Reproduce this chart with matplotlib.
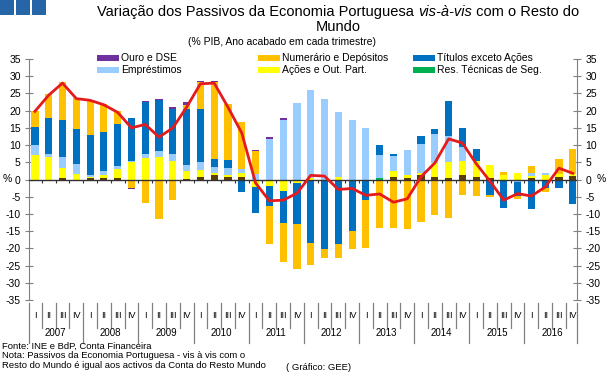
import matplotlib
matplotlib.use("Agg")
import matplotlib.pyplot as plt
import matplotlib.transforms as mtransforms
from matplotlib.patches import Rectangle
import numpy as np

plt.rcParams['font.family'] = ['Liberation Sans Narrow', 'Liberation Sans', 'DejaVu Sans']

# trimestres 2007 I .. 2016 IV
anos = ['2007', '2008', '2009', '2010', '2011', '2012', '2013', '2014', '2015', '2016']
trimestres = ['I', 'II', 'III', 'IV']

# % do PIB, ano acabado em cada trimestre
outros = [-0.4, 0, 0.3, 0, 0.3, 0.3, 0.3, 0, -0.3, -0.4,
          0, 0.2, 0.6, 1.3, 0.6, 0.7, 0, 0, 0, 0,
          0, 0, 0, 0, -0.3, 0, 0.6, 0.4, 1.2, 0.8,
          0.3, 1.3, 0.6, 0.5, 0, 0, 0.3, 0, 0.6, 1.0]
res_tecnicas = [0, 0, 0, 0, 0, 0, 0, 0, 0, 0,
                0, 0, 0, 0, 0, 0, -0.3, 0, 0, 0,
                0, 0, 0, 0, 0, 0.4, 0, 0, 0, 0,
                0, 0, 0.2, -0.3, 0, 0, 0, 0, 0, 0]
acoes = [7.2, 6.5, 3.1, 1.7, 0.4, 0.9, 2.8, 5.0, 6.2, 6.5,
         5.5, 2.3, 2.3, 0.6, 0.6, 1.2, -1.8, -1.9, -3.4, -1.0,
         0.4, 0, 0.6, 0, 0, 0, 1.8, 0.9, 0.8, 4.0,
         4.7, 4.2, 4.7, 3.7, 1.2, 1.8, 0.8, 1.3, 0.9, 0.7]
emprestimos = [2.7, 1.0, 3.1, 2.7, 0.7, 1.4, 0.8, 0.5, 1.3, 1.9,
               2.0, 1.7, 2.1, 1.7, 2.0, 1.2, 1.6, 11.8, 17.4, 22.2,
               25.6, 23.4, 19.1, 17.4, 15.0, 6.8, 4.4, 7.4, 8.3, 8.4,
               7.7, 4.0, -0.5, 0, 0, -0.6, 0.8, 0.6, 0, 0]
titulos = [5.3, 10.4, 10.9, 10.3, 11.6, 11.2, 12.3, 12.4, 15.0, 14.6,
           12.9, 16.4, 15.4, 2.3, 2.4, -3.5, -7.5, -5.8, -9.1, -12.0,
           -18.5, -20.1, -18.8, -15.0, -5.6, 2.7, 0.6, 0, 2.2, 1.6,
           10.2, 5.6, 3.5, -4.1, -8.4, -4.2, -8.7, -2.4, -2.5, -7.2]
numerario = [4.8, 6.9, 10.9, 8.9, 10.1, 8.2, 3.6, -2.5, -6.4, -11.0,
             -6.0, 1.0, 7.9, 22.4, 16.4, 13.6, 6.6, -10.9, -11.4, -13.0,
             -6.4, -2.8, -4.1, -5.2, -14.0, -14.2, -14.1, -14.3, -12.3, -10.3,
             -11.1, -4.5, -4.3, -0.6, 1.0, -1.0, 1.9, -1.3, 4.4, 7.3]
ouro_dse = [0, 0, 0, 0, 0, 0, -0.2, -0.4, 0.4, 0.4,
            0.8, 1.0, 0.2, 0.2, -0.3, 0, 0.5, 0.5, 0.4, 0,
            0, 0, 0, 0, 0, 0, 0, 0, 0, 0,
            0, 0, 0, 0, 0, 0, 0, 0, 0, 0]
total = [19.8, 24.5, 28.0, 23.5, 23.0, 21.7, 19.5, 15.0, 16.0, 12.3,
         15.0, 21.0, 27.8, 28.0, 21.0, 13.5, -1.0, -6.2, -6.0, -4.0,
         1.2, 1.0, -2.9, -2.6, -4.6, -4.2, -6.6, -5.6, 0.8, 4.8,
         11.8, 10.6, 4.6, -0.5, -6.0, -4.1, -4.8, -2.2, 3.3, 1.8]

series = [
    (outros, '#5a3e08', None),
    (res_tecnicas, '#00b050', 'Res. Técnicas de Seg.'),
    (acoes, '#ffff00', 'Ações e Out. Part.'),
    (emprestimos, '#99ccff', 'Empréstimos'),
    (titulos, '#0070c0', 'Títulos exceto Ações'),
    (numerario, '#ffc000', 'Numerário e Depósitos'),
    (ouro_dse, '#7030a0', 'Ouro e DSE'),
]

W, H = 611, 373
fig = plt.figure(figsize=(W / 100, H / 100), dpi=100)

def fx(px):
    return px / W

def fy(py):
    return 1 - py / H

ax_l, ax_r, ax_t, ax_b = 29, 577, 59, 300
ax = fig.add_axes([fx(ax_l), fy(ax_b), fx(ax_r - ax_l), fy(ax_t) - fy(ax_b)])

n = len(total)
x = np.arange(n)
pos_base = np.zeros(n)
neg_base = np.zeros(n)
for vals, cor, nome in series:
    v = np.array(vals, dtype=float)
    base = np.where(v >= 0, pos_base, neg_base)
    ax.bar(x, v, bottom=base, width=0.52, color=cor, linewidth=0, zorder=2)
    pos_base = pos_base + np.where(v > 0, v, 0)
    neg_base = neg_base + np.where(v < 0, v, 0)

ax.plot(x, total, color='#e41a1c', linewidth=2, zorder=4)

ax.set_xlim(-0.43, 39.31)
ax.set_ylim(-35, 35)
ax.axhline(0, color='#333333', linewidth=1, zorder=3)
# pequenos tracos no eixo zero entre trimestres
ax.vlines(np.arange(n) + 0.5, -0.9, 0, color='#333333', linewidth=0.8, zorder=3)

for s in ['top', 'bottom']:
    ax.spines[s].set_visible(False)
for s in ['left', 'right']:
    ax.spines[s].set_color('#808080')
ax.set_xticks([])
yt = np.arange(-35, 36, 5)
ax.set_yticks(yt)
ax.set_yticklabels([str(v) for v in yt])
ax.tick_params(axis='y', direction='inout', length=6, width=0.8, color='#808080',
               labelsize=7.5, left=True, right=True, labelleft=True, labelright=True, pad=3)
bt = mtransforms.blended_transform_factory(fig.transFigure, ax.transData)
fig.text(fx(3), 0, '%', transform=bt, fontsize=7.5, va='center', ha='left')
fig.text(fx(597), 0, '%', transform=bt, fontsize=7.5, va='center', ha='left')

# eixo de categorias (trimestres e anos)
tr = mtransforms.blended_transform_factory(ax.transData, fig.transFigure)
for k in range(n + 1):
    xs = k - 0.5
    if k == 0:
        xs = -0.43
    if k == n:
        xs = 39.31
    fim = 343 if k % 4 == 0 else 328
    ax.plot([xs, xs], [fy(303), fy(fim)], color='#808080', linewidth=0.9,
            transform=tr, clip_on=False)
for k in range(n):
    ax.text(k, fy(316), trimestres[k % 4], transform=tr, ha='center', va='center', fontsize=6.5)
for i, a in enumerate(anos):
    ax.text(i * 4 + 1.5, fy(333), a, transform=tr, ha='center', va='center', fontsize=7)

# quadrados azuis
for i in range(3):
    fig.add_artist(Rectangle((fx(i * 16), fy(15)), fx(14), 15 / H, transform=fig.transFigure,
                             facecolor='#2666a6', edgecolor='none'))

# titulo com vis-a-vis em italico
fig.canvas.draw()
rend = fig.canvas.get_renderer()
partes = [('Variação dos Passivos da Economia Portuguesa ', 'normal'),
          ('vis-à-vis', 'italic'),
          (' com o Resto do', 'normal')]
txts = []
larg = 0
for s, st in partes:
    t = fig.text(0, fy(12), s, fontsize=10.5, style=st, va='center', ha='left')
    larg += t.get_window_extent(rend).width
    txts.append(t)
x0 = 338 - larg / 2
for t in txts:
    t.set_x(fx(x0))
    x0 += t.get_window_extent(rend).width
fig.text(fx(338), fy(27), 'Mundo', fontsize=10.5, ha='center', va='center')
fig.text(fx(282), fy(42), '(% PIB, Ano acabado em cada trimestre)', fontsize=7.5, ha='center', va='center')

# legenda manual
leg = [('Ouro e DSE', '#7030a0', 97, 58), ('Empréstimos', '#99ccff', 97, 70),
       ('Numerário e Depósitos', '#ffc000', 258, 58), ('Ações e Out. Part.', '#ffff00', 258, 70),
       ('Títulos exceto Ações', '#0070c0', 413, 58), ('Res. Técnicas de Seg.', '#00b050', 413, 70)]
for nome, cor, px, py in leg:
    fig.add_artist(Rectangle((fx(px), fy(py + 3)), fx(22), 6 / H, transform=fig.transFigure,
                             facecolor=cor, edgecolor='none'))
    fig.text(fx(px + 24), fy(py), nome, fontsize=7.5, va='center', ha='left')

# notas de rodape
fig.text(fx(2), fy(346), 'Fonte: INE e BdP, Conta Financeira', fontsize=6.8, va='center')
fig.text(fx(2), fy(355), 'Nota: Passivos da Economia Portuguesa - vis à vis com o', fontsize=6.8, va='center')
fig.text(fx(2), fy(365), 'Resto do Mundo é igual aos activos da Conta do Resto Mundo', fontsize=6.8, va='center')
fig.text(fx(286), fy(367), '( Gráfico: GEE)', fontsize=6.8, va='center')

fig.savefig('out.png', dpi=100)
